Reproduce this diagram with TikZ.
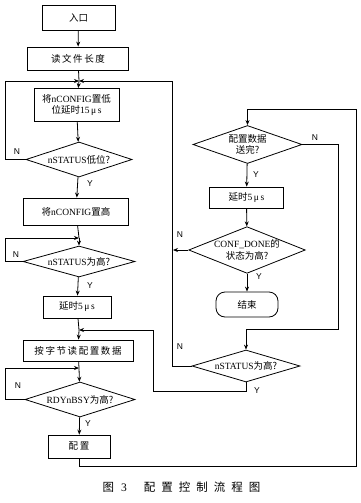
\documentclass[tikz,border=0pt]{standalone}
\usepackage{fontspec}
\setmainfont{Liberation Serif}
\newfontfamily\cjk{Noto Sans CJK SC}
\newfontfamily\yn{Liberation Sans}
\usetikzlibrary{shapes.geometric,arrows.meta}
\newcommand\zh[1]{{\cjk #1}}
\begin{document}
\begin{tikzpicture}[x=1pt,y=-1pt,
  every node/.style={font=\fontsize{9.5}{11.5}\selectfont},
  box/.style={draw, line width=0.8pt, inner sep=1pt, align=center},
  dia/.style={draw, diamond, line width=0.8pt, inner sep=0pt, align=center},
  endbox/.style={draw, rounded corners=9pt, line width=0.8pt, inner sep=1pt},
  arr/.style={line width=0.8pt, -{Stealth[length=5pt,width=4pt]}},
  ln/.style={line width=0.8pt},
  lab/.style={font=\yn\fontsize{8.5}{10}\selectfont, inner sep=0pt}]
\useasboundingbox (0,0) rectangle (360,503);
% left column
\node[box, minimum width=73pt, minimum height=25pt] (n1) at (78.5,17.5) {\zh{入口}};
\node[box, minimum width=101pt, minimum height=23pt] (n2) at (78,58.5) {\zh{读\,文\,件\,长\,度}};
\coordinate (j1) at (79,81);
\node[box, minimum width=85pt, minimum height=33pt] (n3) at (76.5,105) {\zh{将}nCONFIG\zh{置低}\\\zh{位延时}15\,μ\,s};
\node[dia, minimum width=106pt, minimum height=35pt, aspect=3] (d1) at (79,159.5) {nSTATUS\zh{低位?}};
\node[box, minimum width=105pt, minimum height=27pt] (n4) at (76,211.5) {\zh{将}nCONFIG\zh{置高}};
\coordinate (j2) at (79,238);
\node[dia, minimum width=112pt, minimum height=31pt, aspect=3.6] (d2) at (79,261.5) {nSTATUS\zh{为高?}};
\node[box, minimum width=68pt, minimum height=22pt] (n5) at (77,307) {\zh{延时}5\,μ\,s};
\coordinate (j3) at (79,330);
\node[box, minimum width=110pt, minimum height=21pt] (n6) at (78,350.5) {\zh{按\,字\,节\,读\,配\,置\,数\,据}};
\coordinate (j4) at (79,368);
\node[dia, minimum width=110pt, minimum height=35pt, aspect=3.1] (d3) at (80,399.5) {RDYnBSY\zh{为高?}};
\node[box, minimum width=62pt, minimum height=23pt] (n7) at (79,446.5) {\zh{配\,置}};
% right column
\node[dia, minimum width=109pt, minimum height=38pt, aspect=2.9] (d4) at (247.5,144.5) {\zh{配置数据}\\\zh{送完?}};
\node[box, minimum width=74pt, minimum height=21pt] (n8) at (246.5,197.5) {\zh{延时}5\,μ\,s};
\node[dia, minimum width=110pt, minimum height=44pt, aspect=2.5] (d5) at (247,250) {CONF\_DONE\zh{的}\\\zh{状态为高?}};
\node[endbox, minimum width=62pt, minimum height=25pt] (n9) at (247,304.5) {\zh{结束}};
\node[dia, minimum width=108pt, minimum height=32pt, aspect=3.4] (d6) at (246,366) {nSTATUS\zh{为高?}};
% helper coordinates
\coordinate (la) at (5,159.5);
\coordinate (lb) at (5,261.5);
\coordinate (lc) at (5,399.5);
\coordinate (ra) at (172,366);
\coordinate (rb) at (153,391);
\coordinate (rc) at (356,466);
\coordinate (rd) at (356,109);
\coordinate (re) at (338,329);
\coordinate (rf) at (173,250);
% connectors left
\draw[arr] (n1) -- (n2);
\draw[ln] (n2) -- (j1);
\draw[arr] (j1) -- (n3);
\draw[arr] (n3) -- (d1);
\draw[arr] (d1.west) -- (la) |- (j1);
\draw[arr] (d1) -- (n4);
\draw[ln] (n4) -- (j2);
\draw[arr] (j2) -- (d2);
\draw[arr] (d2.west) -- (lb) |- (j2);
\draw[arr] (d2) -- (n5);
\draw[ln] (n5) -- (j3);
\draw[arr] (j3) -- (n6);
\draw[ln] (n6) -- (j4);
\draw[arr] (j4) -- (d3);
\draw[arr] (d3.west) -- (lc) |- (j4);
\draw[arr] (d3) -- (n7);
% connectors right
\draw[arr] (n7.south) |- (rc) -- (rd) -| (d4.north);
\draw[arr] (d4) -- (n8);
\draw[arr] (n8) -- (d5);
\draw[arr] (d5) -- (n9);
\draw[arr] (d5.west) -- (rf);
\draw[arr] (d4.east) -| (re) -| (d6.north);
\draw[arr] (d6.west) -- (ra) |- (j1);
\draw[arr] (d6.south) |- (rb) |- (j3);
% labels
\node[lab] at (17,152) {N};
\node[lab] at (90,184) {Y};
\node[lab] at (16,255) {N};
\node[lab] at (90,286) {Y};
\node[lab] at (18,386) {N};
\node[lab] at (88,424) {Y};
\node[lab] at (315,138) {N};
\node[lab] at (256,175) {Y};
\node[lab] at (180,235) {N};
\node[lab] at (259,277) {Y};
\node[lab] at (180,347) {N};
\node[lab] at (257,391) {Y};
% caption
\node[font=\fontsize{11.5}{13}\selectfont, anchor=west] (cap) at (99,487)
  {\zh{图}\hspace{7pt}3\hspace{17pt}\zh{配}\hspace{6pt}\zh{置}\hspace{6pt}\zh{控}\hspace{6pt}\zh{制}\hspace{6pt}\zh{流}\hspace{6pt}\zh{程}\hspace{6pt}\zh{图}};
\end{tikzpicture}
\end{document}
